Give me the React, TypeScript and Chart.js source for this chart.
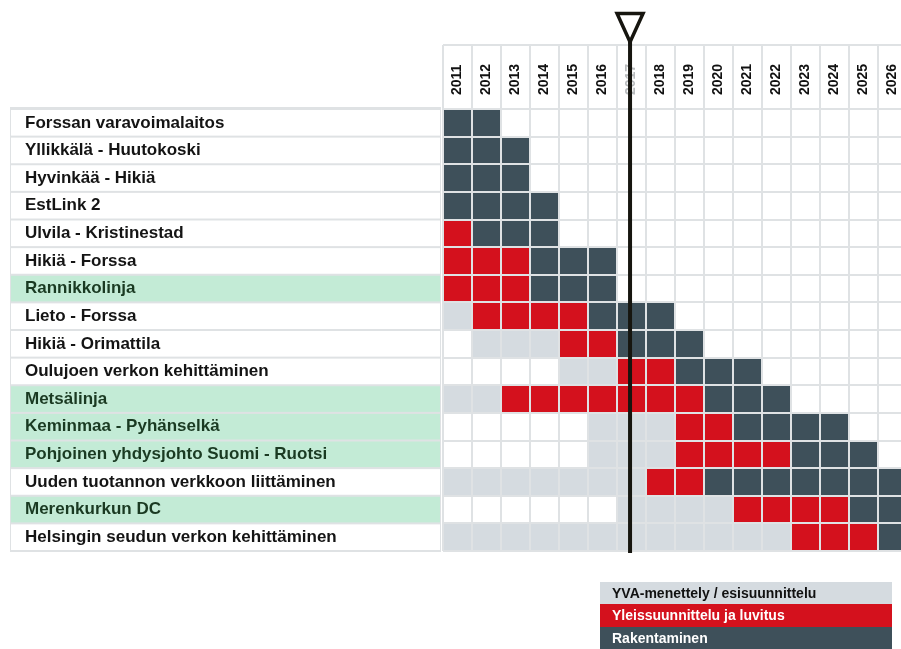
import { useEffect, useRef } from 'react';
import { Chart, registerables } from 'chart.js';

Chart.register(...registerables);

// ---------- data ----------
const years = [2011, 2012, 2013, 2014, 2015, 2016, 2017, 2018, 2019, 2020, 2021, 2022, 2023, 2024, 2025, 2026];
const yearLabels = years.map(String);

const projects = [
  'Forssan varavoimalaitos',
  'Yllikkälä - Huutokoski',
  'Hyvinkää - Hikiä',
  'EstLink 2',
  'Ulvila - Kristinestad',
  'Hikiä - Forssa',
  'Rannikkolinja',
  'Lieto - Forssa',
  'Hikiä - Orimattila',
  'Oulujoen verkon kehittäminen',
  'Metsälinja',
  'Keminmaa - Pyhänselkä',
  'Pohjoinen yhdysjohto Suomi - Ruotsi',
  'Uuden tuotannon verkkoon liittäminen',
  'Merenkurkun DC',
  'Helsingin seudun verkon kehittäminen',
];

// rows shown with a green label background
const highlightedProjects = [
  'Rannikkolinja',
  'Metsälinja',
  'Keminmaa - Pyhänselkä',
  'Pohjoinen yhdysjohto Suomi - Ruotsi',
  'Merenkurkun DC',
];

// [first year, last year] inclusive, per project (null = no such phase)
type Span = [number, number] | null;
const yvaSpans: Span[] = [
  null, null, null, null, null, null, null,
  [2011, 2011], [2012, 2014], [2015, 2016], [2011, 2012], [2016, 2018],
  [2016, 2018], [2011, 2017], [2017, 2020], [2011, 2022],
];
const planSpans: Span[] = [
  null, null, null, null,
  [2011, 2011], [2011, 2013], [2011, 2013], [2012, 2015], [2015, 2016],
  [2017, 2018], [2013, 2019], [2019, 2020], [2019, 2022], [2018, 2019],
  [2021, 2024], [2023, 2025],
];
const buildSpans: Span[] = [
  [2011, 2012], [2011, 2013], [2011, 2013], [2011, 2014], [2012, 2014],
  [2014, 2016], [2014, 2016], [2016, 2018], [2017, 2019], [2019, 2021],
  [2020, 2022], [2021, 2024], [2023, 2025], [2020, 2026], [2025, 2026],
  [2026, 2026],
];

const legendLabels = [
  'YVA-menettely / esisuunnittelu',
  'Yleissuunnittelu ja luvitus',
  'Rakentaminen',
];

const todayMarker = 2017.45;

// ---------- style ----------
const FAMILY = '"Liberation Sans", Arial, Helvetica, sans-serif';
const GRID = '#dfe2e4';
const DARK = '#3e505a';
const RED = '#d4111d';
const GRAY = '#d5dbe0';
const GREEN_BG = '#c3ebd6';
const GREEN_TEXT = '#1a3a22';
const TEXT = '#141414';
const CANVAS_W = 907;
const CANVAS_H = 649;
const LABEL_FONT = 17;
const YEAR_FONT = 14;

const toBars = (spans: Span[]) => spans.map((s) => (s ? [s[0], s[1] + 1] : null));

export default function App() {
  const ref = useRef<HTMLCanvasElement | null>(null);

  useEffect(() => {
    const canvas = ref.current;
    if (!canvas) return;

    const mctx = document.createElement('canvas').getContext('2d')!;
    mctx.font = `bold ${LABEL_FONT}px ${FAMILY}`;
    const widest = Math.max(...projects.map((p) => mctx.measureText(p).width));
    const yAxisWidth = 418;

    const backgroundPlugin = {
      id: 'labelBackgrounds',
      beforeDraw(chart: any) {
        const ctx = chart.ctx;
        const ys = chart.scales.y;
        const xs = chart.scales.x;
        const area = chart.chartArea;
        const rowH = (ys.bottom - ys.top) / projects.length;
        ctx.save();
        // label column
        ctx.fillStyle = GRID;
        ctx.fillRect(10, area.top - 2, area.left - 12, area.bottom - area.top + 3);
        projects.forEach((p, i) => {
          const cy = ys.getPixelForValue(i);
          ctx.fillStyle = highlightedProjects.includes(p) ? GREEN_BG : '#ffffff';
          ctx.fillRect(11, cy - rowH / 2 + 1, area.left - 14, rowH - 2);
        });
        // header cells
        const headerTop = 45;
        ctx.strokeStyle = GRID;
        ctx.lineWidth = 2;
        ctx.beginPath();
        ctx.moveTo(area.left, headerTop);
        ctx.lineTo(area.right, headerTop);
        for (let yr = years[0]; yr <= years[years.length - 1] + 1; yr++) {
          const px = xs.getPixelForValue(yr);
          ctx.moveTo(px, headerTop);
          ctx.lineTo(px, area.top);
        }
        ctx.stroke();
        ctx.restore();
      },
    };

    const overlayPlugin = {
      id: 'overlay',
      afterDraw(chart: any) {
        const ctx = chart.ctx;
        const xs = chart.scales.x;
        const area = chart.chartArea;
        ctx.save();
        // legend
        const legendColors = [GRAY, RED, DARK];
        const legendText = ['#111111', '#ffffff', '#ffffff'];
        const rowsY = [582, 604, 627];
        const rowsH = [22, 23, 24];
        ctx.font = `bold 14px ${FAMILY}`;
        ctx.textBaseline = 'middle';
        ctx.textAlign = 'left';
        legendLabels.forEach((lab, i) => {
          ctx.fillStyle = legendColors[i];
          ctx.fillRect(600, rowsY[i], 292, rowsH[i]);
          ctx.fillStyle = legendText[i];
          ctx.fillText(lab, 612, rowsY[i] + 12);
        });
        // today marker
        const xp = xs.getPixelForValue(todayMarker);
        ctx.strokeStyle = '#16150f';
        ctx.lineWidth = 4;
        ctx.beginPath();
        ctx.moveTo(xp, 40);
        ctx.lineTo(xp, area.bottom + 2);
        ctx.stroke();
        ctx.lineWidth = 3.5;
        ctx.lineJoin = 'miter';
        ctx.beginPath();
        ctx.moveTo(xp - 13, 13.5);
        ctx.lineTo(xp + 13, 13.5);
        ctx.lineTo(xp, 42);
        ctx.closePath();
        ctx.fillStyle = '#ffffff';
        ctx.fill();
        ctx.stroke();
        ctx.restore();
      },
    };

    const chart = new Chart(canvas, {
      type: 'bar',
      data: {
        labels: projects,
        datasets: [
          { label: legendLabels[0], data: toBars(yvaSpans) as any, backgroundColor: GRAY },
          { label: legendLabels[1], data: toBars(planSpans) as any, backgroundColor: RED },
          { label: legendLabels[2], data: toBars(buildSpans) as any, backgroundColor: DARK },
        ],
      },
      options: {
        indexAxis: 'y',
        responsive: false,
        animation: false,
        events: [],
        layout: { padding: { left: 25, right: 0, top: 0, bottom: CANVAS_H - 551 } },
        datasets: {
          bar: {
            grouped: false,
            barPercentage: 1,
            categoryPercentage: 1,
            borderWidth: 0,
            borderSkipped: false,
          },
        },
        plugins: {
          legend: { display: false },
          tooltip: { enabled: false },
          title: { display: false },
        },
        scales: {
          x: {
            type: 'linear',
            position: 'top',
            min: years[0],
            max: years[years.length - 1] + 1,
            ticks: { display: false, stepSize: 1 },
            grid: { color: GRID, lineWidth: 2, drawTicks: false, z: 1 },
            border: { display: false },
            afterFit: (s: any) => { s.height = 0; },
          },
          x2: {
            type: 'linear',
            position: 'top',
            min: years[0],
            max: years[years.length - 1] + 1,
            afterBuildTicks: (s: any) => {
              s.ticks = years.map((y) => ({ value: y + 0.5 }));
            },
            ticks: {
              autoSkip: false,
              minRotation: 90,
              maxRotation: 90,
              padding: 6,
              labelOffset: YEAR_FONT * 1.2,
              font: { family: FAMILY, size: YEAR_FONT, weight: 'bold' },
              color: (c: any) => (yearLabels[c.index] === '2017' ? '#b9bcbe' : '#111111'),
              callback: (_v: any, i: number) => yearLabels[i],
            },
            grid: { display: false },
            border: { display: false },
            afterFit: (s: any) => { s.height = 109; },
          },
          y: {
            type: 'category',
            position: 'left',
            offset: true,
            grid: {
              offset: true,
              color: GRID,
              lineWidth: 2,
              drawTicks: true,
              tickLength: yAxisWidth - widest,
              tickColor: 'rgba(0,0,0,0)',
              z: 1,
            },
            border: { display: false },
            ticks: {
              crossAlign: 'far',
              padding: 0,
              autoSkip: false,
              font: { family: FAMILY, size: LABEL_FONT, weight: 'bold' },
              color: (c: any) => (highlightedProjects.includes(projects[c.index]) ? GREEN_TEXT : TEXT),
            },
            afterFit: (s: any) => { s.width = yAxisWidth; },
          },
        },
      },
      plugins: [backgroundPlugin, overlayPlugin],
    } as any);

    return () => chart.destroy();
  }, []);

  return (
    <div
      style={{
        position: 'fixed',
        left: 0,
        top: 0,
        width: 901,
        height: 649,
        overflow: 'hidden',
        background: '#ffffff',
      }}
    >
      <canvas ref={ref} width={CANVAS_W} height={CANVAS_H} style={{ display: 'block' }} />
    </div>
  );
}
